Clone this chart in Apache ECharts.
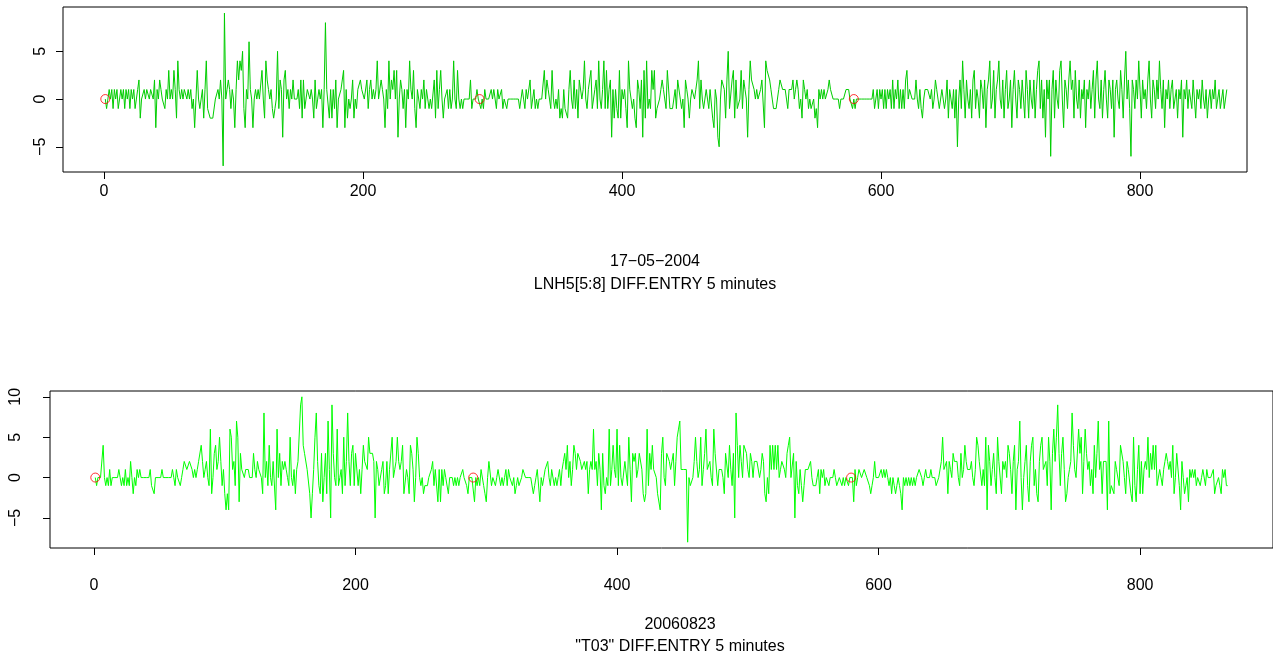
<!DOCTYPE html>
<html><head><meta charset="utf-8">
<script src="https://cdn.jsdelivr.net/npm/echarts@6/dist/echarts.min.js"></script>
<style>html,body{margin:0;padding:0;background:#fff}#c{width:1273px;height:660px}</style>
</head><body><div id="c"></div>
<script>
// ---------- data: top panel (17-05-2004, LNH5[5:8]) ----------
const topSeg1 = [0,-1,0,1,0,1,-1,1,0,1,-1,0,1,0,1,-1,1,0,1,-1,1,0,1,-1,0,1,
 2,-2,0,0,1,0,1,1,0,1, 1,0,2,-3,1,0,2,1,0,0, -1,1,0,3,0,1,0,3,1,-2, 4,1,0,1,0,1,1,0,1,0,
 1,-1,0,-3,0,3,0,-1,0,1, -2,1,4,-1,-1,-2,-2,-2,-2,0, 0,1,0,2,0,-7,9,0,1,2,
 1,-1,1,0,-3,1,4,2,4,3, 5,-1,-3,1,0,6,1,0,-3,0, 1,0,1,0,0,3,0,-2,4];
const topSeg2 = [2,1,0,1,-1,-2,-1,0,5,-1, 2,1,-4,2,3,0,1,-1,1,0, 2,0,0,0,1,-1,2,-2,2,-1,
 0,1,1,0,1,0,-2,2,-1,0, 1,0,1,-3,1,8,1,1,-2,1, -2,1,-1,2,-3,0,0,1,1,3,
 -3,1,-2,0,-1,0,2,-2,0,-1, 1,1,2,1,1,0,0,2,-1,1, 2,0,1,0,1,4,0,0,2,1,
 0,-3,1,-1,4,0,2,1,3,0, 3,-4,0,2,1,-1,1,-3,1,0, 4,1,0,3,-1,-3,1,1,-1,1,
 0,2,-1,1,0,-1,0,-1,-1,2, -2,3];
const topSeg3 = [-1,1,3,0,-2,0,0,1,-1,1, -1,0,4,0,-1,3,0,-1,0,-1, 0,0,0,0,0,2,-1,0,0,0,
 1,0,0,-1,0,-1,1,0,0,0, 0,1,0,1,0,-1,1,0,0,1, -1,0,0,-1,0,0,0,0,0,0,
 0,0,0,-1,0,1,0,-1,1,0, 0,2,-1,0,1,-1,0,-1,0,0, 0,0,3,0,2,1,0,-1,3,0,
 -1,0,-1,1,-2,-1,-2,1,-1,-1, -2,1,3,0,-1,2,-1,1,-2,2, 2,0,1,4,0,-1,1,1,3,-1,
 0,1,2,-1,4,0,-1,1,4,-1, 3];
const topSeg4 = [-1,1,2,-4,1,-2,1,-1,-2,3, -2,1,0,1,-1,-3,4,1,0,-1, 0,-2,-3,2,1,-1,2,-4,3,-2,
 4,-1,0,-1,3,1,3,-2,-1,-1, 0,1,2,1,1,-1,3,3,-1,-1, -1,0,1,-1,2,2,0,-1,0,-3,
 2,1,0,-2,0,1,1,0,1,2, 4,-1,2,0,-1,0,1,0,-1,1, 1,-2,-3,1,0,-4,-5,0,2,2,
 1,-2,2,5,-1,-1,2,3,-2,2, -1,-1,0,3,-1,2,1,0,-4,1, 4,2,2,1,0,1,0,0,1,2,
 2,-3,4,3,3,2,1,0,-1,-1, -1];
const topSeg5 = [-1,1,2,2,1,1,1,0,-1,1, 1,1,2,0,1,2,1,-1,0,-2, 2,1,0,1,-1,0,-1,-1,0,-2,
 -1,-3,1,0,1,0,1,0,0,1, 2,1,1,0,0,0,0,0,-1,0, 0,0,0,1,1,1,0,0,-1,0,
 -1,0,0,0,0,0,0,0,0,0, 0,0,0,0,1,-1,0,1,-1,1, 0,1,-1,1,-1,1,0,1,-1,2,
 -1,1,0,2,-1,1,-1,1,-1,2, 3,0,1,1,0,0,0,2,0,-1, 1,-1,-2,0,1,1,1,1,0,1,
 -1,0,2,1,0,-1,0,1,0,-1, 0,2,-2];
const topSeg6 = [1,0,-1,1,-2,1,-5,0,2,-1, 4,1,-2,2,0,-1,1,-2,2,3, -1,1,0,-2,2,1,-1,2,-3,1,
 2,4,-1,0,3,-2,1,2,4,0, -1,2,-2,1,3,-1,0,2,-3,1, 3,0,-2,2,1,-1,2,0,-2,3,
 1,-2,2,0,-1,2,-2,1,3,4, -1,2,-2,1,-4,2,0,2,-6,1, 3,-2,2,0,-1,3,4,0,-3,2,
 1,-1,2,4,1,2,-2,3,0,-1, 2,-2,1,0,2,-3,1,0,2,-1, 1,3,-2,2,4,0,-1,2,-2,1,
 3,0,-2,2,1,-1,2,-4,1,2, 0,-1,3,1,-2,2,5,0,2,-1, -6,2,1,-1,2,0,4,1,-2,2,
 0,1,-1,2,4,0,-2,2,1,-1, 2,0,4,1,-1,2,-3,1,0,2, -1,1,2,-1,0,1,-2,1,0,2,
 -4,1,0,2,-1,1,0,-1,2,0, -2,1,0,1,-1,2,0,-1,1,-2, 0,1,-1,1,0,2,-1,0,1,-1,
 0,1,-1,0,1];

// ---------- data: bottom panel (20060823, "T03") ----------
const botSeg1 = [0,-1,0,0,0,0,4,0,-1,0, -1,1,-1,0,0,0,0,0,1,0, -1,0,-1,1,-1,0,-1,2,0,-2,
 0,-1,1,0,1,0,0,0,0,0, 0,0,1,-1,-1,-2,0,0,0,0, 0,1,0,0,0,0,0,0,0,1,
 0,-1,1,0,0,-1,0,1,2,2, 1,1,2,2,1,0,1,0,1,2, 2,4,2,0,1,2,0,-1,6,-2,
 0,3,4,1,2,5,2,-1,1,-2, -4,-2,-4,6,5,1,2,-1,7,5, -3,3,1,1,0,1,1,1,0];
const botSeg2 = [0,0,3,1,0,2,1,1,0,-2, 8,0,2,-1,4,0,-1,2,2,-4, 6,0,3,-1,2,1,2,1,0,-1,
 5,0,-1,1,-2,1,2,2,9,10, 4,3,3,1,1,-2,-5,-2,1,5, 8,2,-1,-2,3,-3,0,3,-2,7,
 1,-5,9,3,0,-1,6,-1,0,1, -2,5,-1,2,8,2,-1,3,4,-1, 3,3,-1,1,-2,1,4,2,2,1,
 5,3,3,3,2,-5,2,1,-1,-1, 1,2,-2,-1,2,-2,1,1,5,0, 1,2,5,2,1,2,4,-2,-2,1,
 0,-2,4,3,1,-3];
const botSeg3 = [0,5,3,0,-1,0,-2,-1,-1,-1, 0,0,1,2,-1,1,1,-3,1,-3, 1,-1,1,0,0,-2,0,0,0,-1,
 0,-1,0,-1,0,0,1,0,0,-1, -2,0,0,0,0,-3,0,-1,0,-1, 1,1,-1,-2,-3,0,2,2,-1,0,
 0,-1,0,1,1,-1,0,-1,0,1, -1,1,0,0,-1,0,-2,-1,0,-1, -1,0,1,1,0,0,0,0,0,0,
 -2,-1,0,1,1,-3,0,-1,0,1, 1,2,0,-1,1,1,-1,0,-1,0, 1,-1,1,2,3,1,4,0,2,-1,
 1,4,3,1,3,3,2];
const botSeg4 = [1,1,2,1,2,-2,1,2,1,6, 1,2,-1,3,1,-4,3,-1,-2,0, -1,6,-1,1,4,1,0,6,-1,4,
 0,-1,-1,2,2,-1,5,1,-3,3, 2,3,0,1,3,3,1,-2,-3,-2, 6,-1,3,1,4,1,1,0,-2,-2,
 -4,3,5,0,-1,3,3,2,1,2, 3,-1,2,5,6,7,1,1,1,1,1, -8,0,-1,-1,0,2,5,2,0,1,
 5,-1,1,3,6,1,1,2,0,-1, 6,3,3,-1,1,1,1,0,-2,3,3, 0,4,1,-1,3,-5,8,4,0,4,
 2,0,4,4,3,1];
const botSeg5 = [0,3,2,0,2,2,2,2,0,1, 3,2,-2,-3,0,-2,4,1,4,1, 4,1,4,0,1,2,2,1,0,3,
 4,5,0,0,3,-5,2,-1,-2,1, -1,-3,-1,1,1,1,1,2,0,-1, -1,-1,0,1,-2,1,0,1,-1,0,
 0,-1,0,0,0,1,0,-1,-1,0, 0,-1,0,-1,0,0,-1,0,0,0, -3,1,-1,0,1,1,0,0,1,1,
 0,0,-1,-2,-1,0,2,0,0,0,0, 1,0,1,0,1,0,-1,0,-2,0, -1,-2,-1,0,-1,-2,-4,0,-1,0,
 -1,0];
const botSeg6 = [-1,0,-1,0,-1,0,0,1,1,0, -1,0,1,0,0,0,1,0,0,0, -1,-1,0,0,2,5,1,1,2,-2,
 2,1,0,3,2,2,2,0,-1,3, 0,1,4,2,1,1,1,2,0,-1,1, 5,4,2,2,-1,1,-1,5,-4,4,
 2,-1,1,3,0,-2,5,2,2,-2, 2,1,2,0,4,3,1,-2,2,4, -4,1,2,7,0,-4,0,2,4,-1,
 -3,2,4,5,-1,1,-2,-3,2,4, 5,1,1,2,-1,5,2,-4,3,6,2, 5,9,3,-1,3,5,1,-3,-2,0,
 1,2,8,4,1];
const botSeg7 = [0,0,6,3,5,-2,2,6,3,1, 2,-1,1,-2,4,0,3,7,1,2, -2,2,2,2,-4,7,-2,-1,-1,-2,
 2,1,1,-1,4,4,2,0,-2,2, 1,1,-2,-3,5,-1,-3,1,4,-2, 2,-2,1,2,1,5,0,3,1,4,
 1,4,-1,-1,1,0,-1,1,2,3, 2,1,2,0,4,-2,0,3,3,-1, -4,2,0,-2,-1,0,-3,1,0,1,
 0,1,-1,0,0,-1,0,1,1,-1, 1,0,0,0,0,1,-2,-1,-1,0,-1, -2,1,0,1,-1,-1];

const dayStartX = [1, 290, 579];
const dayStartY = [0, 0, 0];
const xTicks = [0, 200, 400, 600, 800];
const yTicksTop = [-5, 0, 5];
const yTicksBot = [-5, 0, 5, 10];
const topTitle = ['17\u221205\u22122004', 'LNH5[5:8] DIFF.ENTRY 5 minutes'];
const botTitle = ['20060823', '"T03" DIFF.ENTRY 5 minutes'];

// ---------- build ----------
const topVals = [].concat(topSeg1, topSeg2, topSeg3, topSeg4, topSeg5, topSeg6);
const botVals = [].concat(botSeg1, botSeg2, botSeg3, botSeg4, botSeg5, botSeg6, botSeg7);
const toPts = a => a.map((v, i) => [i + 1, v]);
const circ = dayStartX.map((x, i) => [x, dayStartY[i]]);
const FONT = 'Liberation Sans, Arial, Helvetica, sans-serif';
const lab = v => (v < 0 ? '\u2212' + Math.abs(v) : String(v));

function xAx(gi, min, max, margin) {
  return { type: 'value', gridIndex: gi, min: min, max: max, position: 'bottom',
    axisLine: { show: false, onZero: false }, splitLine: { show: false },
    axisTick: { show: true, inside: false, customValues: xTicks, length: 7, lineStyle: { color: '#000', width: 1 } },
    axisLabel: { customValues: xTicks, color: '#000', fontSize: 16, fontFamily: FONT, margin: margin, formatter: lab } };
}
function yAx(gi, min, max, ticks, margin) {
  return { type: 'value', gridIndex: gi, min: min, max: max, position: 'left',
    axisLine: { show: false, onZero: false }, splitLine: { show: false },
    axisTick: { show: true, inside: false, customValues: ticks, length: 7, lineStyle: { color: '#000', width: 1 } },
    axisLabel: { customValues: ticks, color: '#000', fontSize: 16, fontFamily: FONT, margin: margin, rotate: 90, formatter: lab } };
}
function titleText(x, y, t) {
  return { type: 'text', x: x, y: y, style: { text: t, fill: '#000', font: '16px ' + FONT, textAlign: 'center', textVerticalAlign: 'middle' } };
}

const chart = echarts.init(document.getElementById('c'), null, { renderer: 'canvas' });
chart.setOption({
  animation: false,
  backgroundColor: '#fff',
  grid: [
    { left: 63, top: 7, width: 1184, height: 165, show: true, borderColor: '#000', borderWidth: 1, backgroundColor: 'transparent' },
    { left: 50, top: 391, width: 1224, height: 157, show: true, borderColor: '#000', borderWidth: 1, backgroundColor: 'transparent' }
  ],
  xAxis: [ xAx(0, -31.66, 882.6, 12), xAx(1, -33.64, 901.64, 30) ],
  yAxis: [ yAx(0, -7.64, 9.64, yTicksTop, 14), yAx(1, -8.72, 10.72, yTicksBot, 26) ],
  series: [
    { type: 'line', xAxisIndex: 0, yAxisIndex: 0, data: toPts(topVals), showSymbol: false, symbol: 'none',
      lineStyle: { color: '#00CD00', width: 1 }, silent: true },
    { type: 'scatter', xAxisIndex: 0, yAxisIndex: 0, data: circ, symbol: 'circle', symbolSize: 9,
      itemStyle: { color: 'rgba(0,0,0,0)', borderColor: '#FF0000', borderWidth: 1 }, z: 5 },
    { type: 'line', xAxisIndex: 1, yAxisIndex: 1, data: toPts(botVals), showSymbol: false, symbol: 'none',
      lineStyle: { color: '#00FF00', width: 1 }, silent: true },
    { type: 'scatter', xAxisIndex: 1, yAxisIndex: 1, data: circ, symbol: 'circle', symbolSize: 9,
      itemStyle: { color: 'rgba(0,0,0,0)', borderColor: '#FF0000', borderWidth: 1 }, z: 5 }
  ],
  graphic: [
    titleText(655, 262, topTitle[0]), titleText(655, 285, topTitle[1]),
    titleText(680, 625, botTitle[0]), titleText(680, 647, botTitle[1])
  ]
});
</script></body></html>
